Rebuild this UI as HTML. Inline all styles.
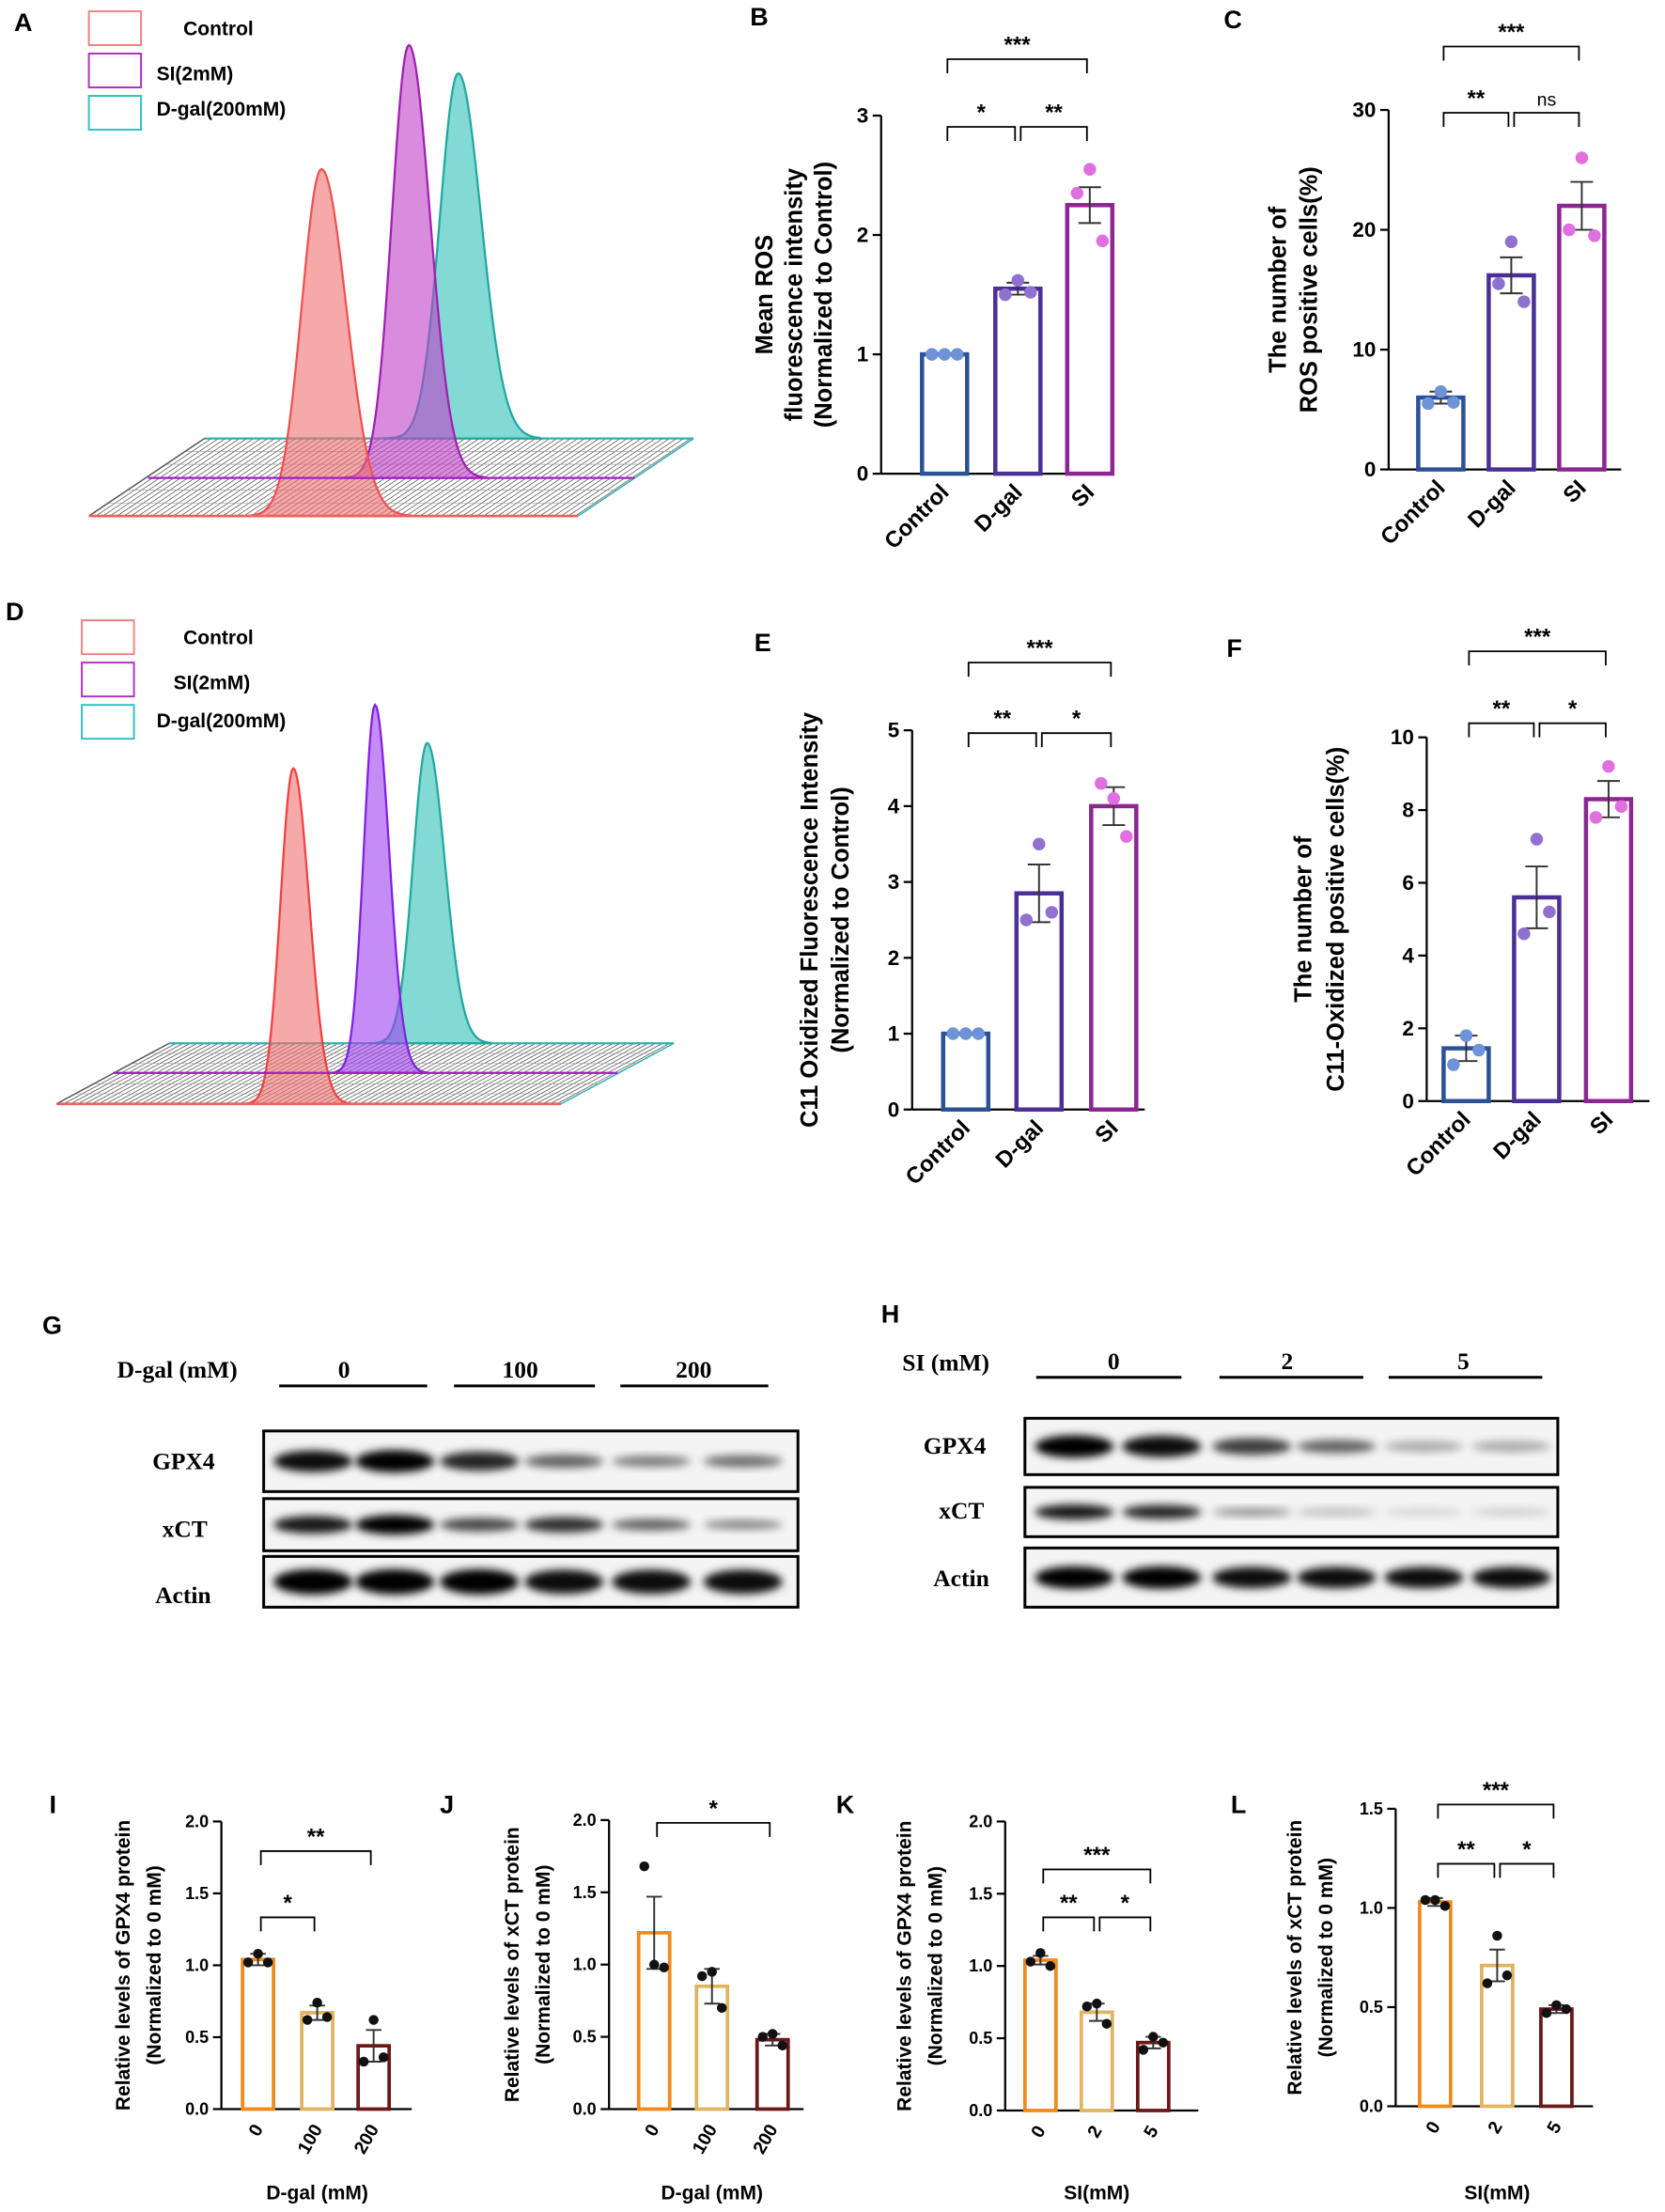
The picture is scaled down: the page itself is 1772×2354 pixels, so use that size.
<!DOCTYPE html>
<html><head><meta charset="utf-8"><style>
html,body{margin:0;padding:0;background:#fff}
svg{display:block}
text{font-family:"Liberation Sans",Arial,sans-serif}
.serif{font-family:"Liberation Serif",serif;font-weight:bold}
</style></head><body>
<svg id="s" width="1772" height="2354" viewBox="0 0 1181 1569" xmlns="http://www.w3.org/2000/svg">
<defs><filter id="bl" x="-20%" y="-50%" width="140%" height="200%"><feGaussianBlur stdDeviation="3"/></filter></defs>
<g id="g"></g>
</svg>
<script>
const G=document.getElementById('g');let h='';
function T(x,y,t,o={}){h+=`<text x="${x}" y="${y}" font-size="${o.s||14}" font-weight="${o.w||'bold'}" text-anchor="${o.a||'start'}" ${o.r!==undefined?`transform="rotate(${o.r} ${x} ${y})"`:''} ${o.c?`class="${o.c}"`:''} fill="#000">${t}</text>`;}
function L(x1,y1,x2,y2,c='#000',w=1.3){h+=`<line x1="${x1}" y1="${y1}" x2="${x2}" y2="${y2}" stroke="${c}" stroke-width="${w}"/>`;}
// panel labels
[['A',10,22],['B',532,18],['C',868,20],['D',4,440],['E',535,462],['F',870,466],['G',30,946],['H',625,938],['I',35,1286],['J',312,1286],['K',593,1286],['L',873,1286]].forEach(p=>T(p[1],p[2],p[0],{s:18}));
// legends
function legend(x,ys,ty,tx){const cs=['#f08080','#b030c0','#30c0c0'];const ts=['Control','SI(2mM)','D-gal(200mM)'];
 for(let i=0;i<3;i++){h+=`<rect x="${x}" y="${ys[i]}" width="37" height="24" fill="none" stroke="${cs[i]}" stroke-width="1.3"/>`;T(tx[i],ty[i],ts[i],{s:14});}}
legend(63,[8,38,68],[25,57,82],[130,111,111]);
legend(58,[440,470,500],[457,489,516],[130,123,111]);
// 3D flow
function flow(fx0,fx1,fy,bx0,by,my,mx0,mx1,peaks){
 const dx=bx0-fx0;
 for(let x=fx0;x<=fx1;x+=5)L(x,fy,x+dx,by,'#555',0.5);
 for(let k=1;k<6;k++){const yy=fy+(by-fy)*k/6;const off=dx*k/6;L(fx0+off,yy,fx1+off,yy,'#999',0.4);}
 L(bx0,by,fx1+dx,by,'#30b0b0',1.5);L(fx1,fy,fx1+dx,by,'#30b0b0',1);L(fx0,fy,bx0,by,'#555',1);
 peaks.forEach(p=>{let d=`M${p.cx-4*p.s} ${p.b}`;for(let x=p.cx-4*p.s;x<=p.cx+4.5*p.s;x+=1){const t=(x-p.cx)/(x<p.cx?p.s:p.s*1.25);d+=` L${x} ${p.b-(p.b-p.t)*Math.exp(-t*t/2)}`;}d+=` L${p.cx+4.5*p.s} ${p.b} Z`;
  h+=`<path d="${d}" fill="${p.f}" fill-opacity="0.6" stroke="${p.c}" stroke-width="1.5"/>`;});
 L(mx0,my,mx1,my,'#a020c0',1.5);L(fx0,fy,fx1,fy,'#f06060',1.8);
}
flow(63,410,366,145,311,339,105,450,[{cx:325,b:311,t:52,s:13,f:'#30c0b8',c:'#20a8a0'},{cx:290,b:339,t:32,s:12,f:'#c040c8',c:'#a020b0'},{cx:228,b:366,t:120,s:14,f:'#f07070',c:'#f05050'}]);
flow(40,398,783,120,740,761,80,438,[{cx:303,b:740,t:527,s:10,f:'#30c0b8',c:'#20a8a0'},{cx:266,b:761,t:500,s:8,f:'#a040f0',c:'#8020e0'},{cx:208,b:783,t:545,s:9,f:'#f07070',c:'#f04040'}]);
// bar charts
function chart(o){
 const sc=(o.y0-o.yt)/o.max;const Y=v=>o.y0-v*sc;
 L(o.ax,o.yt,o.ax,o.y0,'#000',1.5);L(o.ax,o.y0,o.x1,o.y0,'#000',1.5);
 o.ticks.forEach(t=>{L(o.ax-6,Y(t),o.ax,Y(t),'#000',1.5);T(o.ax-9,Y(t)+o.fs/3,o.tl?o.tl(t):t,{s:o.fs,a:'end'});});
 o.bars.forEach(b=>{const w=o.bw;h+=`<rect x="${b.cx-w/2}" y="${Y(b.v)}" width="${w}" height="${o.y0-Y(b.v)}" fill="#fff" stroke="${b.c}" stroke-width="${o.sw}"/>`;
  L(b.cx,Y(b.v-b.e),b.cx,Y(b.v+b.e),'#333',1.3);L(b.cx-w/4,Y(b.v+b.e),b.cx+w/4,Y(b.v+b.e),'#333',1.3);L(b.cx-w/4,Y(b.v-b.e),b.cx+w/4,Y(b.v-b.e),'#333',1.3);
  b.d.forEach((d,i)=>{h+=`<circle cx="${b.cx+(i-1)*o.dd}" cy="${Y(d)}" r="${o.dr}" fill="${b.dc}"/>`;});
  T(b.cx+4,o.y0+o.lo,b.l,{s:o.lfs,a:'end',r:o.lr});});
 o.br.forEach(b=>{const xa=o.bars[b[0]].cx+2,xb=o.bars[b[1]].cx-2;h+=`<path d="M${xa} ${b[2]+10}V${b[2]}H${xb}V${b[2]+10}" fill="none" stroke="#000" stroke-width="1.2"/>`;T((xa+xb)/2,b[2]-5,b[3],{s:b[3]=='ns'?13:16,w:b[3]=='ns'?'normal':'bold',a:'middle'});});
 o.yl.forEach((t,i)=>T(o.ylx+i*o.yls,(o.yt+o.y0)/2,t,{s:o.yfs,a:'middle',r:-90}));
 if(o.xl)T(o.xlx,o.xly,o.xl,{s:14,a:'middle'});
}
const bl='#2c5296',pu='#4a2f96',ma='#8c2690',db='#6f93d8',dp='#9071d0',dm='#e070e0';
chart({ax:625,x1:790,y0:336,yt:82,max:3,ticks:[0,1,2,3],fs:15,bw:32,sw:3,dd:9,dr:4.5,lo:14,lfs:16,lr:-45,
 bars:[{cx:670,v:1,e:0,c:bl,dc:db,d:[1,1,1],l:'Control'},{cx:722,v:1.55,e:0.05,c:pu,dc:dp,d:[1.5,1.62,1.52],l:'D-gal'},{cx:773,v:2.25,e:0.15,c:ma,dc:dm,d:[2.35,2.55,1.95],l:'SI'}],
 br:[[0,1,90,'*'],[1,2,90,'**'],[0,2,42,'***']],yl:['Mean ROS','fluorescence intensity','(Normalized to Control)'],ylx:548,yls:21,yfs:17});
chart({ax:985,x1:1150,y0:333,yt:78,max:30,ticks:[0,10,20,30],fs:15,bw:32,sw:3,dd:9,dr:4.5,lo:14,lfs:16,lr:-45,
 bars:[{cx:1022,v:6,e:0.5,c:bl,dc:db,d:[5.5,6.5,5.6],l:'Control'},{cx:1072,v:16.2,e:1.5,c:pu,dc:dp,d:[15.5,19,14],l:'D-gal'},{cx:1122,v:22,e:2,c:ma,dc:dm,d:[20,26,19.5],l:'SI'}],
 br:[[0,1,80,'**'],[1,2,80,'ns'],[0,2,33,'***']],yl:['The number of','ROS positive cells(%)'],ylx:912,yls:22,yfs:17});
chart({ax:647,x1:812,y0:787,yt:518,max:5,ticks:[0,1,2,3,4,5],fs:15,bw:32,sw:3,dd:9,dr:4.5,lo:14,lfs:16,lr:-45,
 bars:[{cx:685,v:1,e:0,c:bl,dc:db,d:[1,1,1],l:'Control'},{cx:737,v:2.85,e:0.38,c:pu,dc:dp,d:[2.5,3.5,2.6],l:'D-gal'},{cx:790,v:4,e:0.25,c:ma,dc:dm,d:[4.3,4.1,3.6],l:'SI'}],
 br:[[0,1,520,'**'],[1,2,520,'*'],[0,2,470,'***']],yl:['C11 Oxidized Fluorescence Intensity','(Normalized to Control)'],ylx:580,yls:22,yfs:17});
chart({ax:1012,x1:1170,y0:781,yt:523,max:10,ticks:[0,2,4,6,8,10],fs:15,bw:32,sw:3,dd:9,dr:4.5,lo:14,lfs:16,lr:-45,
 bars:[{cx:1040,v:1.45,e:0.35,c:bl,dc:db,d:[1.0,1.8,1.4],l:'Control'},{cx:1090,v:5.6,e:0.85,c:pu,dc:dp,d:[4.6,7.2,5.2],l:'D-gal'},{cx:1141,v:8.3,e:0.5,c:ma,dc:dm,d:[7.8,9.2,8.1],l:'SI'}],
 br:[[0,1,513,'**'],[1,2,513,'*'],[0,2,462,'***']],yl:['The number of','C11-Oxidized positive cells(%)'],ylx:930,yls:23,yfs:17});
const o1='#f08a1c',o2='#e0b460',o3='#6b1818';
const tf=t=>t.toFixed(1);
function small(ax,x1,y0,yt,max,ticks,cx,vals,errs,dots,labs,br,yl,ylx,xl,xlx){
 chart({ax,x1,y0,yt,max,ticks,tl:tf,fs:12,bw:22,sw:2.5,dd:7,dr:3.5,lo:14,lfs:13,lr:-60,
  bars:[0,1,2].map(i=>({cx:cx[i],v:vals[i],e:errs[i],c:[o1,o2,o3][i],dc:'#111',d:dots[i],l:labs[i]})),
  br,yl,ylx,yls:22,yfs:14,xl,xlx,xly:1560});
}
small(157,292,1496,1292,2,[0,0.5,1,1.5,2],[183,225,265],[1.04,0.67,0.44],[0.04,0.05,0.11],[[1.02,1.08,1.02],[0.62,0.74,0.64],[0.33,0.62,0.36]],['0','100','200'],[[0,1,1360,'*'],[0,2,1313,'**']],['Relative levels of GPX4 protein','(Normalized to 0 mM)'],92,'D-gal (mM)',225);
small(432,570,1496,1291,2,[0,0.5,1,1.5,2],[464,505,548],[1.22,0.85,0.48],[0.25,0.12,0.04],[[1.68,1.0,0.98],[0.92,0.95,0.70],[0.50,0.52,0.44]],['0','100','200'],[[0,2,1293,'*']],['Relative levels of xCT protein','(Normalized to 0 mM)'],368,'D-gal (mM)',505);
small(713,850,1497,1292,2,[0,0.5,1,1.5,2],[738,778,818],[1.04,0.68,0.47],[0.03,0.06,0.04],[[1.03,1.09,1.0],[0.72,0.74,0.60],[0.42,0.51,0.47]],['0','2','5'],[[0,1,1360,'**'],[1,2,1360,'*'],[0,2,1326,'***']],['Relative levels of GPX4 protein','(Normalized to 0 mM)'],646,'SI(mM)',778);
small(990,1130,1494,1283,1.5,[0,0.5,1,1.5],[1018,1062,1104],[1.03,0.71,0.49],[0.02,0.08,0.02],[[1.04,1.04,1.01],[0.62,0.86,0.66],[0.47,0.51,0.49]],['0','2','5'],[[0,1,1322,'**'],[1,2,1322,'*'],[0,2,1280,'***']],['Relative levels of xCT protein','(Normalized to 0 mM)'],923,'SI(mM)',1062);
// western blots
function blot(x0,x1,rows,lanes){rows.forEach(r=>{h+=`<rect x="${x0}" y="${r.y}" width="${x1-x0}" height="${r.h}" fill="#f4f4f4" stroke="#000" stroke-width="2"/>`;
 lanes.forEach((lx,i)=>{const a=r.a[i];if(a>0)h+=`<ellipse cx="${lx}" cy="${r.y+r.h/2+(r.o||0)}" rx="28" ry="${r.bh*Math.max(0.5,a)}" fill="#000" fill-opacity="${a}" filter="url(#bl)"/>`;});});}
blot(187,566,[{y:1015,h:43,bh:8,a:[0.95,1,0.85,0.6,0.5,0.55]},{y:1063,h:37,bh:7,a:[0.9,1,0.7,0.8,0.6,0.45]},{y:1104,h:36,bh:9,a:[1,1,1,0.95,0.95,0.95]}],[222,280,340,400,462,527]);
blot(727,1105,[{y:1006,h:40,bh:8,a:[1,0.95,0.75,0.6,0.3,0.3]},{y:1055,h:35,bh:6,a:[0.9,0.85,0.4,0.22,0.12,0.15]},{y:1098,h:42,bh:8,a:[1,1,0.95,0.95,0.95,0.95]}],[762,824,888,948,1010,1072]);
T(83,977,'D-gal (mM)',{s:17,c:'serif'});
[[198,303,'0',244],[322,422,'100',369],[440,545,'200',492]].forEach(a=>{L(a[0],983,a[1],983,'#000',2);T(a[3],977,a[2],{s:17,a:'middle',c:'serif'});});
T(640,972,'SI (mM)',{s:17,c:'serif'});
[[735,838,'0',790],[865,967,'2',913],[985,1094,'5',1038]].forEach(a=>{L(a[0],977,a[1],977,'#000',2);T(a[3],971,a[2],{s:17,a:'middle',c:'serif'});});
[['GPX4',108,1042],['xCT',115,1090],['Actin',110,1137],['GPX4',655,1031],['xCT',666,1077],['Actin',662,1125]].forEach(a=>T(a[1],a[2],a[0],{s:17,c:'serif'}));
G.innerHTML=h;
</script>
</body></html>
